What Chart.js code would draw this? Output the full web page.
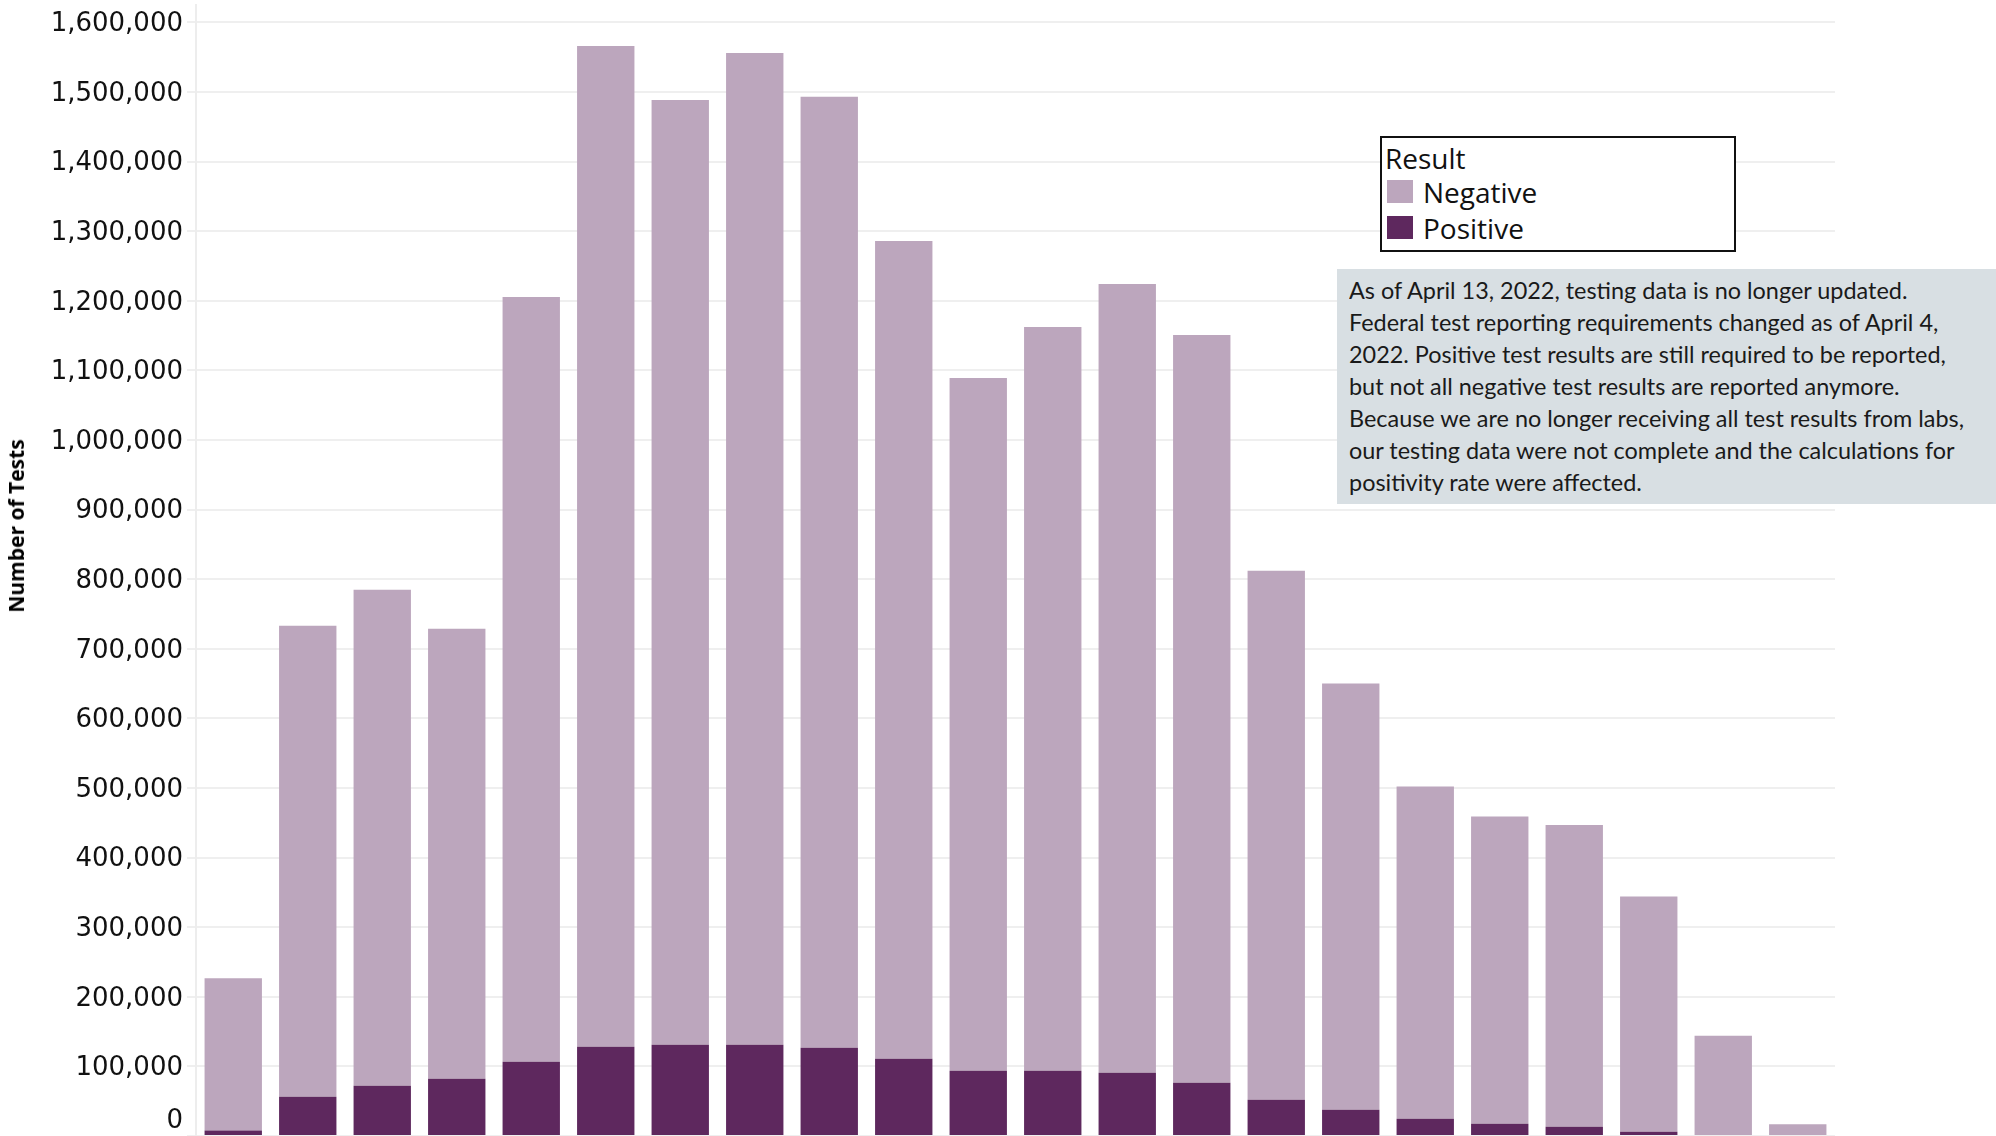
<!DOCTYPE html>
<html>
<head>
<meta charset="utf-8">
<title>Number of Tests by Result</title>
<script src="https://cdn.jsdelivr.net/npm/chart.js@4.4.1/dist/chart.umd.min.js"></script>
<style>
  html, body { margin: 0; padding: 0; background: #fff; overflow: hidden; }
  #wrap { position: relative; width: 1996px; height: 1136px; }
  #testsChart { position: absolute; left: 0; top: 0; }
  #yTitle {
    position: absolute; left: 16px; top: 526px;
    transform: translate(-50%, -50%) rotate(-90deg);
    font: bold 21px 'Open Sans', sans-serif; color: #000; white-space: nowrap;
  }
  #legendBox {
    position: absolute; left: 1380px; top: 136px; width: 352px; height: 112px;
    border: 2px solid #111; background: #fff;
    font-family: 'Open Sans', sans-serif; font-size: 28px; color: #111;
  }
  #legendBox .ttl { position: absolute; left: 3px; top: 3px; line-height: 34px; }
  #legendBox .row { position: absolute; left: 5px; height: 34px; line-height: 34px; }
  #legendBox .sw { position: absolute; left: 0; top: 5px; width: 26px; height: 23px; }
  #legendBox .lbl { position: absolute; left: 36px; top: 0; white-space: nowrap; }
  #note {
    position: absolute; left: 1337px; top: 269px; width: 659px; height: 235px;
    background: #d8dfe3; overflow: hidden;
  }
  #note .txt {
    position: absolute; left: 12px; top: 5px; transform-origin: 0 0;
    font: 23px Lato, sans-serif; line-height: 32px; color: #1a1a1a; white-space: nowrap;
  }
</style>
</head>
<body>
<div id="wrap">
  <canvas id="testsChart" width="1996" height="1136"></canvas>
  <div id="yTitle">Number of Tests</div>
  <div id="legendBox"></div>
  <div id="note"><div class="txt"></div></div>
</div>
<script>
// values (stacked bars, positive at the bottom)
const periods = ['1', '2', '3', '4', '5', '6', '7', '8', '9', '10', '11',
                 '12', '13', '14', '15', '16', '17', '18', '19', '20', '21', '22'];
const positiveTests = [8000, 56500, 72200, 82300, 106700, 128300, 131100, 131100, 126800, 111000, 93800,
                       93800, 90900, 76600, 52100, 37800, 24800, 17700, 13400, 6200, 0, 0];
const negativeTests = [218500, 676500, 712800, 646400, 1098800, 1437700, 1357400, 1424900, 1366200, 1175000, 995200,
                       1068700, 1133100, 1074400, 759900, 612200, 477200, 441300, 433600, 337800, 144000, 17000];
const yTicks = [0, 100000, 200000, 300000, 400000, 500000, 600000, 700000, 800000,
                900000, 1000000, 1100000, 1200000, 1300000, 1400000, 1500000, 1600000];
const legendTitle = 'Result';
const noteLines = [
  'As of April 13, 2022, testing data is no longer updated.',
  'Federal test reporting requirements changed as of April 4,',
  '2022. Positive test results are still required to be reported,',
  'but not all negative test results are reported anymore.',
  'Because we are no longer receiving all test results from labs,',
  'our testing data were not complete and the calculations for',
  'positivity rate were affected.'
];

const negColor = '#bca6bd';
const posColor = '#5e285e';
const tickFont = { family: "'DejaVu Sans', sans-serif", size: 26 };

// "0" sits above the bottom edge in the original, so draw it a bit higher
const zeroLabel = {
  id: 'zeroLabel',
  afterDraw(chart) {
    const y = chart.scales.y;
    const ctx = chart.ctx;
    ctx.save();
    ctx.font = tickFont.size + 'px ' + tickFont.family;
    ctx.fillStyle = '#111';
    ctx.textAlign = 'right';
    ctx.textBaseline = 'middle';
    ctx.fillText('0', y.right - 13, y.getPixelForValue(0) - 15);
    ctx.restore();
  }
};

const chart = new Chart(document.getElementById('testsChart'), {
  type: 'bar',
  data: {
    labels: periods,
    datasets: [
      { label: 'Positive', data: positiveTests, backgroundColor: posColor, borderWidth: 0 },
      { label: 'Negative', data: negativeTests, backgroundColor: negColor, borderWidth: 0 }
    ]
  },
  options: {
    responsive: false,
    animation: false,
    layout: { padding: { top: 5, right: 161, left: 0, bottom: 0 } },
    datasets: { bar: { barPercentage: 0.77, categoryPercentage: 1 } },
    scales: {
      x: { stacked: true, display: false },
      y: {
        stacked: true,
        min: 0,
        max: 1625000,
        afterBuildTicks(scale) {
          scale.ticks = yTicks.map(v => ({ value: v }));
        },
        afterFit(scale) {
          scale.width = 196;
          scale.paddingTop = 0;
          scale.paddingBottom = 0;
        },
        ticks: {
          includeBounds: false,
          padding: 4,
          labelOffset: 2,
          color: '#111',
          font: tickFont,
          callback: v => v === 0 ? '' : v.toLocaleString('en-US')
        },
        grid: { color: '#efefef', lineWidth: 2, tickLength: 9 },
        border: { display: true, color: '#ededed', width: 2 }
      }
    },
    plugins: {
      legend: { display: false },
      tooltip: { mode: 'index' }
    }
  },
  plugins: [zeroLabel]
});

// legend box (Negative listed first, as in the original)
const legendBox = document.getElementById('legendBox');
let html = '<div class="ttl">' + legendTitle + '</div>';
[chart.data.datasets[1], chart.data.datasets[0]].forEach((ds, i) => {
  html += '<div class="row" style="top:' + (37 + i * 36) + 'px">' +
          '<span class="sw" style="background:' + ds.backgroundColor + '"></span>' +
          '<span class="lbl">' + ds.label + '</span></div>';
});
legendBox.innerHTML = html;

// note text, squeezed to the width of the original block
const noteTxt = document.querySelector('#note .txt');
noteTxt.innerHTML = noteLines.map(s => '<div>' + s + '</div>').join('');
document.fonts.ready.then(() => {
  const w = noteTxt.getBoundingClientRect().width;
  noteTxt.style.transform = 'scaleX(' + (615 / w) + ')';
});
</script>
</body>
</html>
